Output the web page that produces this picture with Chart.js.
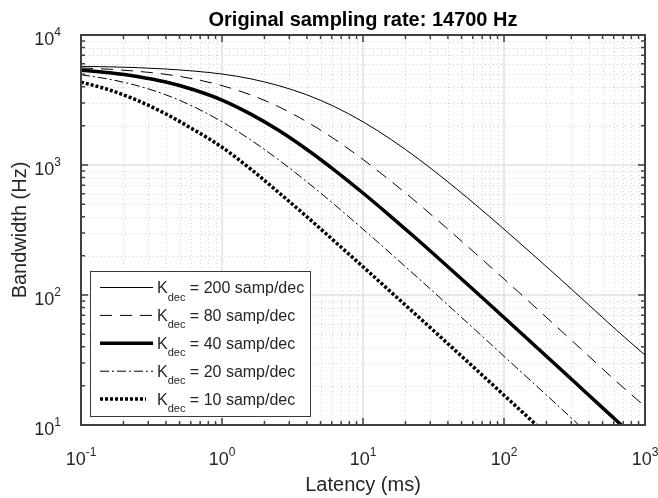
<!DOCTYPE html>
<html>
<head>
<meta charset="utf-8">
<script src="https://cdn.jsdelivr.net/npm/chart.js@4/dist/chart.umd.min.js"></script>
<style>
  html, body { margin: 0; padding: 0; background: #fff; }
  canvas { display: block; }
</style>
</head>
<body>
<canvas id="chart" width="658" height="498"></canvas>
<script>
// latency in ms, bandwidth in Hz
const latencyMs = [0.1, 0.16, 0.25, 0.4, 0.63, 1, 1.6, 2.5, 4, 6.3, 10, 16, 25, 40, 63, 100, 160, 250, 400, 630, 1000];
const bwK200 = [5740, 5690, 5609, 5473, 5278, 5010, 4600, 4090, 3465, 2807, 2150, 1559, 1103, 742, 494, 321, 205, 133, 83.8, 53.5, 34.5];
const bwK80 = [5580, 5450, 5260, 4980, 4590, 4080, 3460, 2819, 2150, 1577, 1103, 742, 498, 321, 208, 133, 83.8, 53.9, 33.8, 21.5, 13.9];
const bwK40 = [5360, 5120, 4800, 4352, 3794, 3160, 2462, 1857, 1317, 911, 609, 396, 260, 165, 106, 67.2, 42.2, 27.1, 16.95, 10.77, 6.79];
const bwK20 = [4950, 4560, 4080, 3465, 2807, 2150, 1559, 1103, 742, 494, 321, 205, 133, 83.8, 53.5, 33.8, 21.2, 13.6, 8.49, 5.4, 3.4];
const bwK10 = [4340, 3773, 3145, 2470, 1870, 1370, 930, 620, 400, 258, 165, 104, 67.2, 42.2, 26.9, 16.95, 10.6, 6.79, 4.25, 2.7, 1.7];
const kDec = [200, 80, 40, 20, 10];

const xTicks = [0.1, 1, 10, 100, 1000];
const yTicks = [10, 100, 1000, 10000];

const FONT = '"Liberation Sans", Arial, Helvetica, sans-serif';
const TEXT = '#262626';

const seriesValues = [bwK200, bwK80, bwK40, bwK20, bwK10];
const lineWidths = [1, 1, 3.5, 1, 3.5];
const lineDashes = [[], [12, 8], [], [9, 3, 2, 3], [3, 2]];

const datasets = seriesValues.map((vals, i) => ({
    label: 'K_dec = ' + kDec[i] + ' samp/dec',
    data: latencyMs.map((x, j) => ({ x: x, y: vals[j] })),
    showLine: true,
    borderColor: '#000',
    borderWidth: lineWidths[i],
    borderDash: lineDashes[i],
    borderCapStyle: 'butt',
    pointRadius: 0,
    cubicInterpolationMode: 'monotone',
    fill: false,
}));

function minorValues(ticks) {
    const out = [];
    for (let i = 0; i < ticks.length - 1; i++) {
        for (let m = 2; m <= 9; m++) out.push(ticks[i] * m);
    }
    return out;
}

// "10" with a raised exponent
function drawPow(ctx, value, x, baseY, align) {
    const exp = String(Math.round(Math.log10(value)));
    ctx.font = '18px ' + FONT;
    const wb = ctx.measureText('10').width;
    ctx.font = '12px ' + FONT;
    const we = ctx.measureText(exp).width;
    const total = wb + we;
    const start = align === 'right' ? x - total : x - total / 2;
    ctx.textAlign = 'left';
    ctx.textBaseline = 'alphabetic';
    ctx.fillStyle = TEXT;
    ctx.font = '18px ' + FONT;
    ctx.fillText('10', start, baseY);
    ctx.font = '12px ' + FONT;
    ctx.fillText(exp, start + wb, baseY - 9);
}

const matlabAxes = {
    id: 'matlabAxes',
    beforeDraw(chart) {
        const ctx = chart.ctx;
        ctx.save();
        ctx.fillStyle = '#fff';
        ctx.fillRect(0, 0, chart.width, chart.height);
        ctx.restore();
    },
    beforeDatasetsDraw(chart) {
        const { ctx, chartArea: a } = chart;
        const xs = chart.scales.x, ys = chart.scales.y;
        ctx.save();
        // minor grid (dotted)
        ctx.strokeStyle = '#d2d2d2';
        ctx.lineWidth = 1;
        ctx.setLineDash([1, 3]);
        minorValues(xTicks).forEach(v => {
            const px = Math.round(xs.getPixelForValue(v)) + 0.5;
            ctx.beginPath(); ctx.moveTo(px, a.top); ctx.lineTo(px, a.bottom); ctx.stroke();
        });
        minorValues(yTicks).forEach(v => {
            const py = Math.round(ys.getPixelForValue(v)) + 0.5;
            ctx.beginPath(); ctx.moveTo(a.left, py); ctx.lineTo(a.right, py); ctx.stroke();
        });
        // major grid
        ctx.setLineDash([]);
        ctx.strokeStyle = '#e0e0e0';
        ctx.lineWidth = 1.5;
        xTicks.forEach(v => {
            const px = xs.getPixelForValue(v);
            ctx.beginPath(); ctx.moveTo(px, a.top); ctx.lineTo(px, a.bottom); ctx.stroke();
        });
        yTicks.forEach(v => {
            const py = ys.getPixelForValue(v);
            ctx.beginPath(); ctx.moveTo(a.left, py); ctx.lineTo(a.right, py); ctx.stroke();
        });
        ctx.restore();
    },
    afterDatasetsDraw(chart) {
        const { ctx, chartArea: a } = chart;
        const xs = chart.scales.x, ys = chart.scales.y;
        ctx.save();

        // box
        ctx.strokeStyle = '#404040';
        ctx.lineWidth = 2;
        ctx.strokeRect(a.left, a.top, a.right - a.left, a.bottom - a.top);

        // inward ticks on all four sides
        ctx.lineWidth = 1.5;
        const tickX = (v, len) => {
            const px = xs.getPixelForValue(v);
            ctx.beginPath();
            ctx.moveTo(px, a.bottom); ctx.lineTo(px, a.bottom - len);
            ctx.moveTo(px, a.top); ctx.lineTo(px, a.top + len);
            ctx.stroke();
        };
        const tickY = (v, len) => {
            const py = ys.getPixelForValue(v);
            ctx.beginPath();
            ctx.moveTo(a.left, py); ctx.lineTo(a.left + len, py);
            ctx.moveTo(a.right, py); ctx.lineTo(a.right - len, py);
            ctx.stroke();
        };
        xTicks.forEach(v => tickX(v, 7));
        minorValues(xTicks).forEach(v => tickX(v, 4));
        yTicks.forEach(v => tickY(v, 7));
        minorValues(yTicks).forEach(v => tickY(v, 4));

        // tick labels
        xTicks.forEach(v => drawPow(ctx, v, xs.getPixelForValue(v), 465, 'center'));
        yTicks.forEach(v => drawPow(ctx, v, 61, ys.getPixelForValue(v) + 9.5, 'right'));

        // axis titles and title
        ctx.fillStyle = TEXT;
        ctx.textAlign = 'center';
        ctx.textBaseline = 'alphabetic';
        ctx.font = '20px ' + FONT;
        ctx.fillText('Latency (ms)', (a.left + a.right) / 2, 491);
        ctx.save();
        ctx.translate(26, (a.top + a.bottom) / 2);
        ctx.rotate(-Math.PI / 2);
        ctx.fillText('Bandwidth (Hz)', 0, 0);
        ctx.restore();
        ctx.font = 'bold 20px ' + FONT;
        ctx.fillStyle = '#000';
        ctx.fillText('Original sampling rate: 14700 Hz', (a.left + a.right) / 2, 26);

        // legend
        const lx = 90, ly = 271, lw = 220, lh = 145;
        ctx.fillStyle = '#fff';
        ctx.fillRect(lx, ly, lw, lh);
        ctx.strokeStyle = '#3a3a3a';
        ctx.lineWidth = 1;
        ctx.strokeRect(lx + 0.5, ly + 0.5, lw, lh);
        chart.data.datasets.forEach((ds, i) => {
            const cy = 287.5 + i * 27.9;
            ctx.strokeStyle = '#000';
            ctx.lineWidth = ds.borderWidth;
            ctx.setLineDash(ds.borderDash);
            ctx.lineCap = 'butt';
            ctx.beginPath();
            ctx.moveTo(100, cy);
            ctx.lineTo(i === 4 ? 146 : 153, cy);
            ctx.stroke();
            ctx.setLineDash([]);
            ctx.fillStyle = TEXT;
            ctx.textAlign = 'left';
            ctx.font = '16px ' + FONT;
            let tx = 157;
            ctx.fillText('K', tx, cy + 5.5);
            tx += ctx.measureText('K').width;
            ctx.font = '11px ' + FONT;
            ctx.fillText('dec', tx, cy + 13);
            tx += ctx.measureText('dec').width;
            ctx.font = '16px ' + FONT;
            ctx.fillText(' = ' + kDec[i] + ' samp/dec', tx, cy + 5.5);
        });

        ctx.restore();
    },
};

const hiddenAxis = (min, max) => ({
    type: 'logarithmic',
    min: min,
    max: max,
    ticks: { display: false },
    grid: { display: false },
    border: { display: false },
    title: { display: false },
});

new Chart(document.getElementById('chart').getContext('2d'), {
    type: 'scatter',
    data: { datasets: datasets },
    options: {
        responsive: false,
        animation: false,
        layout: { padding: { left: 73, top: 35, right: 13, bottom: 65 } },
        scales: {
            x: hiddenAxis(0.1, 1000),
            y: hiddenAxis(10, 10000),
        },
        plugins: {
            legend: { display: false },
            tooltip: { enabled: false },
        },
    },
    plugins: [matlabAxes],
});
</script>
</body>
</html>
